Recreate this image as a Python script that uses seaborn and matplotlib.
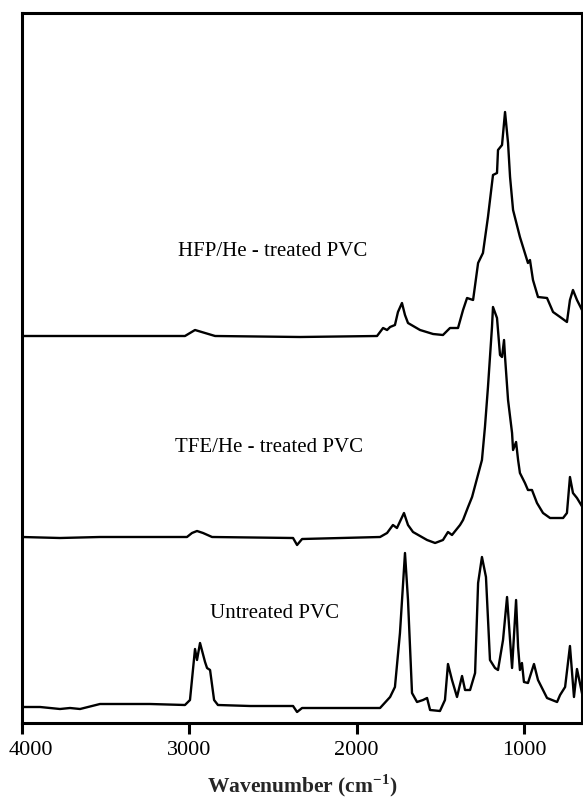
import numpy as np
import pandas as pd
import matplotlib
matplotlib.use("Agg")
import matplotlib.pyplot as plt
import matplotlib.transforms as mtransforms
import seaborn as sns

# Wavenumber (cm-1) and absorbance (arbitrary units, traces stacked with their offset)
untreated_wn = [4000, 3892, 3773, 3713, 3653, 3534, 3235, 3026, 2996, 2966, 2954, 2936, 2906, 2894,
                2876, 2852, 2829, 2637, 2380, 2356, 2326, 2099, 1860, 1800, 1771, 1741, 1711, 1693,
                1669, 1639, 1603, 1579, 1561, 1502, 1472, 1454, 1430, 1400, 1370, 1352, 1322, 1292,
                1274, 1251, 1227, 1203, 1173, 1155, 1125, 1101, 1083, 1071, 1047, 1035, 1024, 1012,
                1000, 976, 940, 916, 862, 802, 784, 754, 725, 701, 683, 647]
untreated_abs = [16, 16, 14, 15, 14, 19, 19, 18, 23, 74, 63, 80, 61, 55,
                 53, 23, 18, 17, 17, 11, 15, 15, 15, 26, 36, 90, 170, 123,
                 30, 21, 23, 25, 13, 12, 23, 59, 43, 26, 47, 33, 33, 50,
                 140, 166, 146, 63, 55, 53, 83, 126, 83, 55, 123, 76, 53, 60,
                 41, 40, 59, 43, 25, 21, 28, 36, 77, 26, 54, 25]

tfe_wn = [4000, 3773, 3534, 3235, 3014, 2984, 2954, 2918, 2864, 2380, 2356, 2326, 1860, 1818,
          1783, 1759, 1717, 1693, 1663, 1579, 1531, 1484, 1454, 1430, 1382, 1364, 1334, 1310,
          1251, 1233, 1215, 1191, 1185, 1161, 1143, 1131, 1119, 1113, 1095, 1071, 1065, 1047,
          1035, 1024, 994, 976, 952, 922, 886, 844, 766, 743, 725, 707, 683, 647]
tfe_abs = [186, 185, 186, 186, 186, 190, 192, 190, 186, 185, 178, 184, 186, 190,
           198, 195, 210, 198, 191, 183, 180, 183, 191, 188, 198, 203, 216, 226,
           263, 296, 336, 396, 416, 405, 368, 366, 383, 366, 323, 290, 273, 281,
           263, 250, 240, 233, 233, 220, 210, 205, 205, 210, 246, 230, 225, 215]

hfp_wn = [4000, 3534, 3235, 3026, 2966, 2906, 2846, 2338, 1878, 1842, 1818, 1800, 1771, 1753,
          1729, 1711, 1693, 1621, 1543, 1484, 1442, 1394, 1364, 1340, 1304, 1274, 1245, 1215,
          1185, 1161, 1155, 1131, 1113, 1095, 1083, 1065, 1024, 976, 964, 946, 916, 862,
          826, 784, 743, 725, 707, 683, 647]
hfp_abs = [387, 387, 387, 387, 393, 390, 387, 386, 387, 395, 393, 396, 398, 411,
           420, 408, 400, 393, 389, 388, 395, 395, 413, 425, 423, 460, 470, 506,
           548, 550, 573, 578, 611, 580, 546, 513, 486, 460, 463, 443, 426, 425,
           411, 406, 401, 423, 433, 423, 411]

labels = ["HFP/He - treated PVC", "TFE/He - treated PVC", "Untreated PVC"]
label_wn = [3068, 3086, 2876]
label_y = [471, 275, 110]
xticks = [4000, 3000, 2000, 1000]

df = pd.concat([
    pd.DataFrame({"wn": hfp_wn, "a": hfp_abs, "sample": labels[0]}),
    pd.DataFrame({"wn": tfe_wn, "a": tfe_abs, "sample": labels[1]}),
    pd.DataFrame({"wn": untreated_wn, "a": untreated_abs, "sample": labels[2]}),
])

sns.set_style("ticks")
plt.rcParams["font.family"] = ["Liberation Serif", "DejaVu Serif"]
plt.rcParams["mathtext.fontset"] = "custom"
plt.rcParams["mathtext.rm"] = "Liberation Serif"
plt.rcParams["mathtext.bf"] = "Liberation Serif:bold"

fig = plt.figure(figsize=(5.83, 8.01), dpi=100)
ax = fig.add_axes([22 / 583, 1 - 723 / 801, 560 / 583, 710 / 801])

sns.lineplot(data=df, x="wn", y="a", units="sample", estimator=None, sort=False,
             color="black", linewidth=1.7, ax=ax, legend=False)

for t, xw, yv in zip(labels, label_wn, label_y):
    ax.text(xw, yv, t, ha="left", va="center", fontsize=15, color="black")

ax.set_xlim(4000, 653)
ax.set_ylim(0, 710)
ax.set_xticks(xticks)
ax.set_xticklabels([str(v) for v in xticks], fontsize=16)
ax.set_yticks([])
ax.set_ylabel("")
ax.set_xlabel("Wavenumber (cm$^{\\mathbf{-1}}$)", fontsize=15.5, fontweight="bold", labelpad=9)
ax.tick_params(axis="x", direction="out", length=8, width=2.2, pad=5, colors="black")
for s in ax.spines.values():
    s.set_visible(True)
    s.set_linewidth(2.2)
    s.set_color("black")

# shift the first tick label slightly right, as in the reference
offs = mtransforms.ScaledTranslation(9 / 100, 0, fig.dpi_scale_trans)
first = ax.get_xticklabels()[0]
first.set_transform(first.get_transform() + offs)

fig.savefig("out.png", dpi=100)
